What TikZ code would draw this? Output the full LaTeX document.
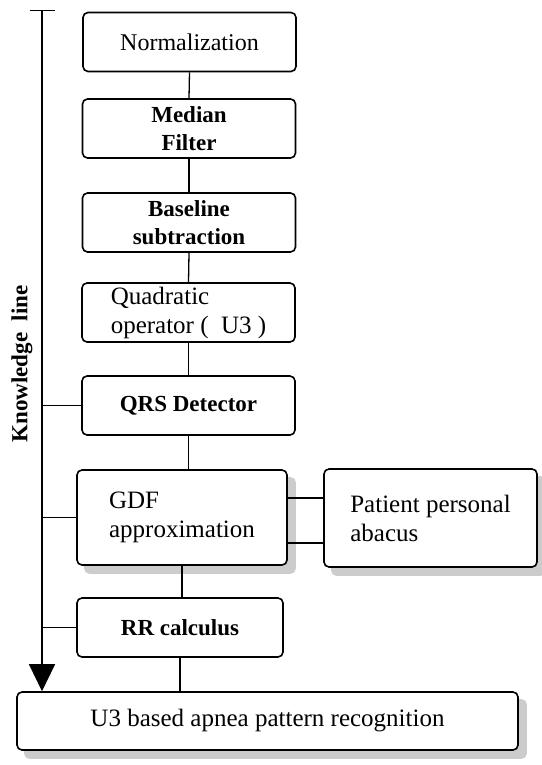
\documentclass[tikz,border=0pt]{standalone}
\usepackage{fontspec}
\setmainfont{Liberation Serif}
\usetikzlibrary{arrows.meta,backgrounds}

\begin{document}
\begin{tikzpicture}[
  x=1pt, y=-1pt,
  block/.style={rectangle, draw, fill=white, line width=1.6pt, rounded corners=5pt, minimum width=213pt, minimum height=59pt, font=\fontsize{23}{28}\selectfont\bfseries, align=center, inner sep=2pt},
  plain/.style={font=\fontsize{25}{29}\selectfont},
  shade/.style={fill=gray!40, rounded corners=5pt},
  link/.style={line width=1.3pt}
]
\useasboundingbox (0,0) rectangle (541,765);

% Processing chain
\node[block, font=\fontsize{24}{28}\selectfont] (norm) at (189.5,42) {Normalization};
\node[block] (median) at (189,128.5) {Median\\Filter};
\node[block] (base) at (189,222.5) {Baseline\\subtraction};
\node[block, plain, align=left] (quad) at (188.5,312.5) {Quadratic\\operator (\ \ U3 )};
\node[block] (qrs) at (188.5,405.5) {QRS Detector};
\node[block, plain, align=left, minimum width=210pt, minimum height=95pt] (gdf) at (182,517.5) {GDF\\approximation};
\node[block, minimum width=206pt] (rr) at (180,627.5) {RR calculus};

% Side box
\node[block, plain, align=left, minimum height=98pt] (abacus) at (430.5,518) {Patient personal\\abacus};

% Result
\node[block, plain, minimum width=501pt, minimum height=58pt] (apnea) at (267.5,721) {U3 based apnea pattern recognition};

% Shadows
\begin{scope}[on background layer]
  \foreach \n in {gdf, abacus, apnea}
    \fill[shade] ([xshift=8pt,yshift=-8pt]\n.south west) rectangle ([xshift=8pt,yshift=-8pt]\n.north east);
\end{scope}

% Knowledge line
\coordinate (kltop) at (42,10);
\node[rotate=90, font=\fontsize{23}{28}\selectfont\bfseries] (kl) at (22,364) {Knowledge\ \ line};
\draw[link, {Bar[width=25pt]}-{Triangle[width=26pt,length=27pt]}] (kltop) -- (kltop |- apnea.north);
\draw[link] (qrs.west) -- (qrs.west -| kltop);
\draw[link] (gdf.west) -- (gdf.west -| kltop);
\draw[link] (rr.west) -- (rr.west -| kltop);

% Connectors
\draw[link] (norm.south) -- (median.north);
\draw[link] (median.south) -- (base.north);
\draw[link] (base.south) -- (quad.north);
\draw[link] (quad.south) -- (qrs.north);
\draw[link] (qrs.south) -- (qrs.south |- gdf.north);
\draw[link] (gdf.south) -- (gdf.south |- rr.north);
\draw[link] (rr.south) -- (rr.south |- apnea.north);
\draw[link] ([yshift=20pt]abacus.west) -- ([yshift=20pt]abacus.west -| gdf.east);
\draw[link] ([yshift=-25pt]abacus.west) -- ([yshift=-25pt]abacus.west -| gdf.east);

\end{tikzpicture}
\end{document}
